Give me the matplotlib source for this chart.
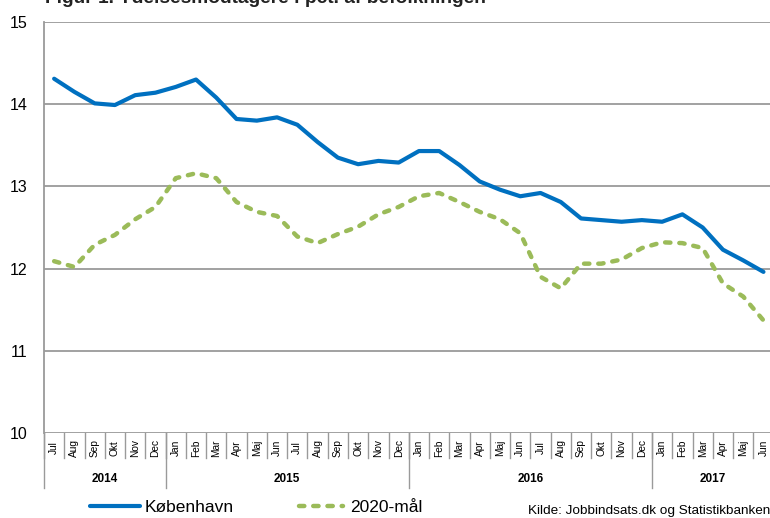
import numpy as np
import matplotlib.pyplot as plt
from matplotlib.transforms import blended_transform_factory
from matplotlib.lines import Line2D

plt.rcParams["font.family"] = ["Liberation Sans", "DejaVu Sans"]

months = ["Jul", "Aug", "Sep", "Okt", "Nov", "Dec",
          "Jan", "Feb", "Mar", "Apr", "Maj", "Jun", "Jul", "Aug", "Sep", "Okt", "Nov", "Dec",
          "Jan", "Feb", "Mar", "Apr", "Maj", "Jun", "Jul", "Aug", "Sep", "Okt", "Nov", "Dec",
          "Jan", "Feb", "Mar", "Apr", "Maj", "Jun"]
years = ["2014", "2015", "2016", "2017"]
year_len = [6, 12, 12, 6]

kbh = [14.31, 14.15, 14.01, 13.99, 14.11, 14.14,
       14.21, 14.30, 14.08, 13.82, 13.80, 13.84, 13.75, 13.54, 13.35, 13.27, 13.31, 13.29,
       13.43, 13.43, 13.26, 13.06, 12.96, 12.88, 12.92, 12.81, 12.61, 12.59, 12.57, 12.59,
       12.57, 12.66, 12.50, 12.23, 12.10, 11.96]
maal = [12.09, 12.02, 12.29, 12.41, 12.60, 12.75,
        13.10, 13.16, 13.10, 12.81, 12.69, 12.64, 12.39, 12.31, 12.42, 12.51, 12.66, 12.75,
        12.88, 12.92, 12.81, 12.69, 12.60, 12.43, 11.90, 11.76, 12.06, 12.06, 12.11, 12.25,
        12.32, 12.31, 12.25, 11.82, 11.66, 11.37]

BLUE = "#0070C0"
GREEN = "#9BBB59"
GRID = "#9a9a9a"

fig = plt.figure(figsize=(7.7, 5.18), dpi=100)
ax = fig.add_axes([44 / 770, 1 - 433 / 518, 729.6 / 770, 411 / 518])

x = np.arange(len(months))
ax.plot(x, kbh, color=BLUE, lw=3.0, solid_joinstyle="round", solid_capstyle="round", zorder=3)
ax.plot(x, maal, color=GREEN, lw=3.2, dashes=(1.2, 2.0), dash_capstyle="round",
        dash_joinstyle="round", zorder=3)

ax.set_xlim(-0.5, len(months) - 0.5)
ax.set_ylim(10, 15)
ax.set_yticks(range(10, 16))
for v in range(10, 16):
    ax.axhline(v, color=GRID, lw=1.3, zorder=1)

for s in ["top", "right", "bottom"]:
    ax.spines[s].set_visible(False)
ax.spines["left"].set_color(GRID)
ax.spines["left"].set_linewidth(1.3)
ax.set_xticks([])
ax.tick_params(axis="y", length=0, pad=12, labelsize=11.5)

trans = blended_transform_factory(ax.transData, ax.transAxes)
ah = 411.0
for i, m in enumerate(months):
    ax.text(i, -(448 - 433) / ah, m, rotation=90, ha="center", va="center",
            fontsize=7.3, transform=trans, clip_on=False)
for i in range(len(months) + 1):
    ax.add_line(Line2D([i - 0.5, i - 0.5], [0, -(458 - 433) / ah], transform=trans,
                       color=GRID, lw=1.0, clip_on=False))

start = 0
for yr, n in zip(years, year_len):
    ax.add_line(Line2D([start - 0.5, start - 0.5], [0, -(488 - 433) / ah], transform=trans,
                       color=GRID, lw=1.0, clip_on=False))
    ax.text(start + (n - 1) / 2, -(479 - 433) / ah, yr, ha="center", va="center",
            fontsize=8.5, fontweight="bold", transform=trans, clip_on=False)
    start += n

# title, cut at top edge like the source
fig.text(45 / 770, 1 - 3 / 518, "Figur 1. Ydelsesmodtagere i pct. af befolkningen",
         fontsize=13.8, fontweight="bold", color="#222222", va="baseline", ha="left")

# legend
fig.add_artist(Line2D([90 / 770, 140 / 770], [1 - 506 / 518] * 2, color=BLUE, lw=3.0,
                      solid_capstyle="round"))
fig.text(145 / 770, 1 - 508 / 518, "København", fontsize=12.5, va="center", ha="left")
fig.add_artist(Line2D([299 / 770, 343 / 770], [1 - 506 / 518] * 2, color=GREEN, lw=3.2,
                      dashes=(1.2, 2.0), dash_capstyle="round"))
fig.text(350 / 770, 1 - 508 / 518, "2020-mål", fontsize=12.5, va="center", ha="left")
fig.text(528 / 770, 1 - 511 / 518, "Kilde: Jobbindsats.dk og Statistikbanken",
         fontsize=9.7, va="center", ha="left")

fig.savefig("out.png", dpi=100)
